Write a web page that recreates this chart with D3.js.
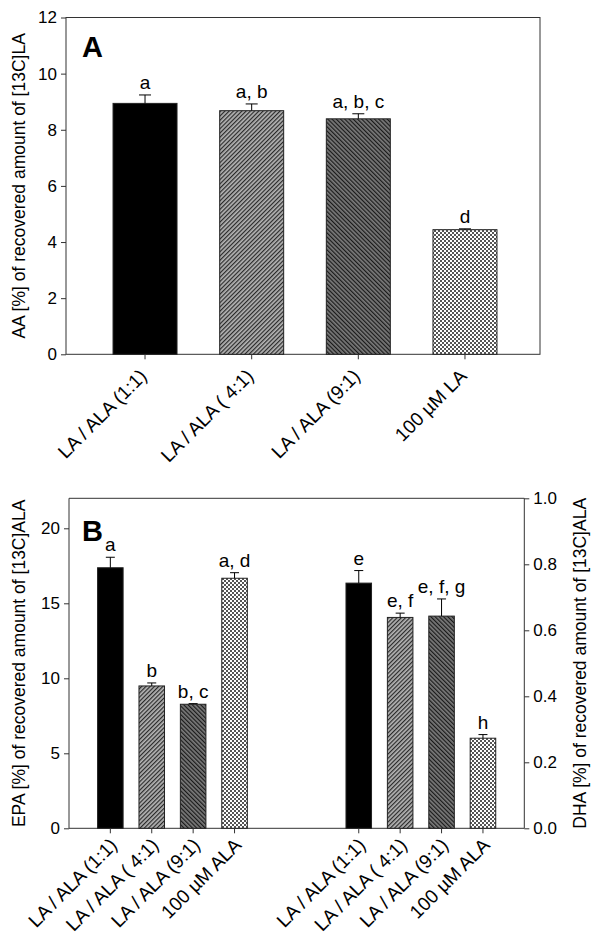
<!DOCTYPE html>
<html>
<head>
<meta charset="utf-8">
<script src="https://cdn.jsdelivr.net/npm/d3@7"></script>
<style>
  body { margin: 0; background: #fff; }
  svg text { font-family: "Liberation Sans", Arial, sans-serif; fill: #000; }
</style>
</head>
<body>
<svg id="chart" width="600" height="944"></svg>
<script>
// ---------- Data ----------
const catsA = ["LA / ALA (1:1)", "LA / ALA ( 4:1)", "LA / ALA (9:1)", "100 µM LA"];
const aaMean = [8.94, 8.68, 8.39, 4.44];
const aaErr = [0.30, 0.24, 0.18, 0.03];
const aaLetters = ["a", "a, b", "a, b, c", "d"];
const yTicksA = [0, 2, 4, 6, 8, 10, 12];

const catsB = ["LA / ALA (1:1)", "LA / ALA ( 4:1)", "LA / ALA (9:1)", "100 µM ALA"];
const epaMean = [17.37, 9.49, 8.27, 16.67];
const epaErr = [0.70, 0.20, 0.04, 0.37];
const epaLetters = ["a", "b", "b, c", "a, d"];
const dhaMean = [0.743, 0.639, 0.643, 0.273];
const dhaErr = [0.038, 0.013, 0.052, 0.011];
const dhaLetters = ["e", "e, f", "e, f, g", "h"];
const yTicksBLeft = [0, 5, 10, 15, 20];
const yTicksBRight = [0, 0.2, 0.4, 0.6, 0.8, 1.0];

const fills = ["url(#solid)", "url(#hatchLight)", "url(#hatchDark)", "url(#check)"];

// ---------- Setup ----------
const svg = d3.select("#chart");
const defs = svg.append("defs");
const AXC = "#333";
const FONT = '"Liberation Sans", Arial, sans-serif';

defs.append("pattern").attr("id", "solid").attr("patternUnits", "userSpaceOnUse")
  .attr("width", 4).attr("height", 4)
  .append("rect").attr("width", 4).attr("height", 4).attr("fill", "#000");

function hatch(id, bg, fg, angle) {
  const p = defs.append("pattern").attr("id", id).attr("patternUnits", "userSpaceOnUse")
    .attr("width", 3).attr("height", 3).attr("patternTransform", `rotate(${angle})`);
  p.append("rect").attr("width", 3).attr("height", 3).attr("fill", bg);
  p.append("rect").attr("x", 0).attr("y", 0).attr("width", 1.2).attr("height", 3).attr("fill", fg);
}
hatch("hatchLight", "#b4b4b4", "#2a2a2a", 45);
hatch("hatchDark", "#7a7a7a", "#1a1a1a", -45);

const pc = defs.append("pattern").attr("id", "check").attr("patternUnits", "userSpaceOnUse")
  .attr("width", 4).attr("height", 4);
pc.append("rect").attr("width", 4).attr("height", 4).attr("fill", "#fff");
pc.append("rect").attr("x", 0).attr("y", 0).attr("width", 2).attr("height", 2).attr("fill", "#555");
pc.append("rect").attr("x", 2).attr("y", 2).attr("width", 2).attr("height", 2).attr("fill", "#555");

const FS = 17;     // tick labels
const FT = 17.5;   // axis titles
const FL = 19;     // significance letters
const FC = 19;     // category labels

function styleAxis(g) {
  g.selectAll(".domain").remove();
  g.selectAll(".tick line").attr("stroke", AXC);
  g.selectAll(".tick text").attr("font-size", FS).attr("font-family", FONT);
}

function drawErr(g, x, w, yTop, yMeanPx, capW) {
  g.append("line").attr("x1", x + w / 2).attr("x2", x + w / 2)
    .attr("y1", yMeanPx).attr("y2", yTop).attr("stroke", "#000").attr("stroke-width", 1);
  g.append("line").attr("x1", x + w / 2 - capW / 2).attr("x2", x + w / 2 + capW / 2)
    .attr("y1", yTop).attr("y2", yTop).attr("stroke", "#000").attr("stroke-width", 1);
}

// ---------- Panel A ----------
const A = { left: 66, right: 540, top: 17.5, bottom: 354.3 };
const xA = d3.scaleBand().domain(catsA).range([91.7, 518.3]).paddingInner(0.4).paddingOuter(0.2);
const yA = d3.scaleLinear().domain([0, 12]).range([A.bottom, A.top]);

const gA = svg.append("g");
gA.append("rect").attr("x", A.left).attr("y", A.top).attr("width", A.right - A.left)
  .attr("height", A.bottom - A.top).attr("fill", "none").attr("stroke", AXC).attr("stroke-width", 1);

gA.append("g").attr("transform", `translate(${A.left},0)`)
  .call(d3.axisLeft(yA).tickValues(yTicksA).tickSize(5).tickPadding(4).tickFormat(d3.format("d")))
  .call(styleAxis);

catsA.forEach((c, i) => {
  const x = xA(c), w = xA.bandwidth();
  gA.append("rect").attr("x", x).attr("y", yA(aaMean[i])).attr("width", w)
    .attr("height", yA(0) - yA(aaMean[i])).attr("fill", fills[i]).attr("stroke", "#222").attr("stroke-width", 1);
  drawErr(gA, x, w, yA(aaMean[i] + aaErr[i]), yA(aaMean[i]), 12);
  gA.append("text").attr("x", x + w / 2).attr("y", yA(aaMean[i] + aaErr[i]) - 6)
    .attr("text-anchor", "middle").attr("font-size", FL).text(aaLetters[i]);
  gA.append("line").attr("x1", x + w / 2).attr("x2", x + w / 2)
    .attr("y1", A.bottom).attr("y2", A.bottom + 5).attr("stroke", AXC);
  gA.append("text").attr("text-anchor", "end").attr("font-size", FC)
    .attr("transform", `translate(${x + w / 2 + 3},${A.bottom + 23}) rotate(-45)`)
    .text(c);
});

gA.append("text").attr("x", 82).attr("y", 57).attr("font-size", 29).attr("font-weight", "bold").text("A");

gA.append("text").attr("text-anchor", "middle").attr("font-size", FT)
  .attr("transform", `translate(25,${(A.top + A.bottom) / 2}) rotate(-90)`)
  .text("AA [%] of recovered amount  of [13C]LA");

// ---------- Panel B ----------
const B = { left: 69, right: 524.3, top: 498.3, bottom: 828.3 };
const slots = [...catsB.map(c => "EPA|" + c), "gap1", "gap2", ...catsB.map(c => "DHA|" + c)];
const xB = d3.scaleBand().domain(slots).range([B.left, B.right]).paddingInner(0.383).paddingOuter(0.69);
const yBL = d3.scaleLinear().domain([0, 22]).range([B.bottom, B.top]);
const yBR = d3.scaleLinear().domain([0, 1]).range([B.bottom, B.top]);

const gB = svg.append("g");
gB.append("line").attr("x1", B.left).attr("x2", B.right).attr("y1", B.top).attr("y2", B.top).attr("stroke", AXC);
gB.append("line").attr("x1", B.left).attr("x2", B.right).attr("y1", B.bottom).attr("y2", B.bottom).attr("stroke", AXC);
gB.append("line").attr("x1", B.left).attr("x2", B.left).attr("y1", B.top).attr("y2", B.bottom).attr("stroke", AXC);
gB.append("line").attr("x1", B.right).attr("x2", B.right).attr("y1", B.top).attr("y2", B.bottom).attr("stroke", AXC);

gB.append("g").attr("transform", `translate(${B.left},0)`)
  .call(d3.axisLeft(yBL).tickValues(yTicksBLeft).tickSize(5).tickPadding(4).tickFormat(d3.format("d")))
  .call(styleAxis);
gB.append("g").attr("transform", `translate(${B.right},0)`)
  .call(d3.axisRight(yBR).tickValues(yTicksBRight).tickSize(5).tickPadding(4).tickFormat(d3.format(".1f")))
  .call(styleAxis);

function drawGroup(prefix, means, errs, letters, yS) {
  catsB.forEach((c, i) => {
    const key = prefix + "|" + c;
    const x = xB(key), w = xB.bandwidth();
    gB.append("rect").attr("x", x).attr("y", yS(means[i])).attr("width", w)
      .attr("height", yS(0) - yS(means[i])).attr("fill", fills[i]).attr("stroke", "#222").attr("stroke-width", 1);
    drawErr(gB, x, w, yS(means[i] + errs[i]), yS(means[i]), 9);
    gB.append("text").attr("x", x + w / 2).attr("y", yS(means[i] + errs[i]) - 6)
      .attr("text-anchor", "middle").attr("font-size", FL).text(letters[i]);
    gB.append("line").attr("x1", x + w / 2).attr("x2", x + w / 2)
      .attr("y1", B.bottom).attr("y2", B.bottom + 5).attr("stroke", AXC);
    gB.append("text").attr("text-anchor", "end").attr("font-size", FC)
      .attr("transform", `translate(${x + w / 2 + 8},${B.bottom + 18}) rotate(-45)`)
      .text(c);
  });
}
drawGroup("EPA", epaMean, epaErr, epaLetters, yBL);
drawGroup("DHA", dhaMean, dhaErr, dhaLetters, yBR);

gB.append("text").attr("x", 82).attr("y", 541).attr("font-size", 29).attr("font-weight", "bold").text("B");

gB.append("text").attr("text-anchor", "middle").attr("font-size", FT)
  .attr("transform", `translate(25,${(B.top + B.bottom) / 2}) rotate(-90)`)
  .text("EPA [%] of recovered amount  of [13C]ALA");
gB.append("text").attr("text-anchor", "middle").attr("font-size", FT)
  .attr("transform", `translate(586,${(B.top + B.bottom) / 2}) rotate(-90)`)
  .text("DHA [%] of recovered amount of [13C]ALA");
</script>
</body>
</html>
